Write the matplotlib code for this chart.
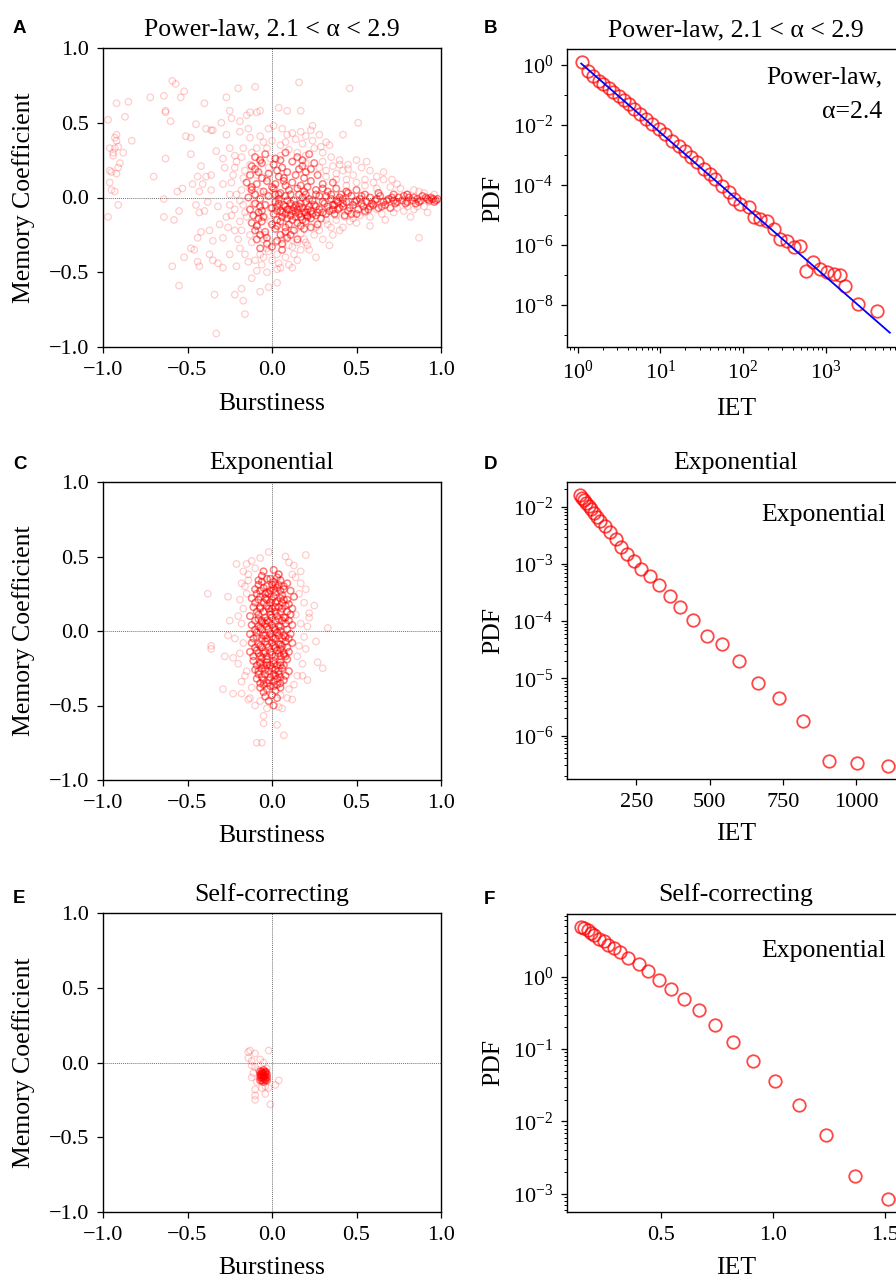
import numpy as np
import matplotlib
matplotlib.use("Agg")
import matplotlib.pyplot as plt
from matplotlib.ticker import LogLocator, NullFormatter, FixedLocator

# ---------------------------------------------------------------- data
# Panel A: burstiness / memory coefficient pairs (power-law IETs)
a_spread = [
    (-0.59, 0.78), (-0.57, 0.76), (-0.52, 0.71), (-0.54, 0.67), (-0.64, 0.68), (-0.72, 0.67),
    (-0.85, 0.64), (-0.92, 0.63), (-0.87, 0.54), (-0.97, 0.52), (-0.63, 0.58), (-0.63, 0.57),
    (-0.60, 0.51), (-0.40, 0.63), (-0.27, 0.67), (-0.20, 0.73), (-0.10, 0.74), (-0.25, 0.58),
    (-0.24, 0.53), (-0.19, 0.51), (-0.15, 0.55), (-0.13, 0.57), (-0.07, 0.58), (-0.09, 0.57),
    (-0.30, 0.50), (-0.45, 0.49), (-0.39, 0.46), (-0.35, 0.45), (-0.36, 0.45), (-0.27, 0.42),
    (-0.51, 0.41), (-0.48, 0.40), (-0.83, 0.38), (-0.92, 0.42), (-0.93, 0.40), (-0.92, 0.38),
    (-0.96, 0.33), (-0.91, 0.34), (-0.93, 0.33), (-0.94, 0.30), (-0.88, 0.30), (-0.94, 0.28),
    (-0.90, 0.23), (-0.91, 0.20), (-0.96, 0.18), (-0.95, 0.17), (-0.92, 0.16), (-0.96, 0.10),
    (-0.95, 0.05), (-0.93, 0.04), (-0.91, -0.05), (-0.97, -0.13), (-0.63, 0.26), (-0.70, 0.14),
    (-0.48, 0.29), (-0.42, 0.21), (-0.44, 0.14), (-0.39, 0.14), (-0.36, 0.15), (-0.47, 0.09),
    (-0.41, 0.09), (-0.53, 0.06), (-0.56, 0.04), (-0.43, 0.04), (-0.36, 0.05), (-0.64, -0.01),
    (-0.64, -0.13), (-0.58, -0.15), (-0.55, -0.09), (-0.45, -0.05), (-0.43, -0.10), (-0.40, -0.09),
    (-0.38, -0.03), (-0.32, -0.06), (-0.42, -0.23), (-0.44, -0.27), (-0.48, -0.34), (-0.46, -0.35),
    (-0.52, -0.40), (-0.59, -0.46), (-0.55, -0.59), (-0.44, -0.43), (-0.43, -0.46), (-0.37, -0.38),
    (-0.35, -0.42), (-0.34, -0.65), (-0.32, -0.44), (-0.29, -0.47), (-0.22, -0.65), (-0.17, -0.69),
    (-0.16, -0.78), (-0.33, -0.91), (-0.12, -0.54), (-0.09, -0.49), (-0.18, -0.61), (-0.07, -0.63),
    (-0.02, -0.60), (-0.03, -0.50), (-0.14, -0.43), (-0.21, -0.46), (-0.25, -0.38), (-0.19, -0.34),
    (-0.07, -0.38), (-0.03, -0.34), (-0.35, -0.29), (-0.29, -0.27), (-0.37, -0.22), (-0.31, -0.18),
    (-0.27, -0.13), (-0.22, -0.22), (-0.19, -0.16), (-0.13, -0.25), (-0.09, -0.19), (-0.04, -0.25),
    (-0.01, -0.16), (-0.15, -0.13), (-0.07, -0.11), (-0.01, -0.07), (-0.25, -0.05), (-0.17, -0.05),
    (-0.11, -0.05), (-0.21, 0.02), (-0.13, 0.06), (-0.07, 0.04), (-0.03, 0.02), (-0.29, 0.09),
    (-0.23, 0.15), (-0.17, 0.13), (-0.09, 0.15), (-0.03, 0.13), (-0.13, 0.22), (-0.07, 0.24),
    (-0.01, 0.26), (-0.21, 0.24), (-0.29, 0.26), (-0.33, 0.31), (-0.17, 0.33), (-0.09, 0.33),
    (-0.03, 0.33), (-0.13, 0.40), (-0.07, 0.41), (-0.02, 0.46), (-0.19, 0.44), (-0.25, 0.33),
    (0.16, 0.77), (0.46, 0.73), (0.04, 0.60), (0.09, 0.58), (0.17, 0.58), (0.51, 0.50),
    (0.01, 0.48), (0.24, 0.48), (0.23, 0.45), (0.28, 0.42), (0.42, 0.42), (0.17, 0.44),
    (0.09, 0.42), (0.12, 0.43), (0.14, 0.39), (0.34, 0.35), (0.29, 0.34), (0.56, 0.24),
    (0.40, 0.22), (0.45, 0.19), (0.53, 0.20), (0.66, 0.17), (0.62, 0.14), (0.71, 0.12),
    (0.80, 0.02), (0.87, 0.04), (0.87, -0.27), (0.67, -0.15), (0.58, -0.19), (0.50, -0.17),
    (0.35, -0.20), (0.25, -0.25), (0.21, -0.32), (0.03, -0.57), (0.12, -0.47), (0.05, -0.47),
    (0.04, -0.44), (0.06, -0.28), (0.10, -0.32), (0.17, -0.35), (0.13, -0.38), (0.03, -0.38),
    (0.19, -0.28), (0.74, -0.07), (0.80, -0.06), (0.86, -0.06), (0.93, -0.03), (0.96, -0.01),
    (0.30, 0.30), (0.35, 0.27), (0.40, 0.25), (0.45, 0.22), (0.32, 0.18), (0.38, 0.16),
    (0.44, 0.12), (0.50, 0.10), (0.55, 0.08), (0.60, 0.10), (0.28, -0.22), (0.33, -0.18),
    (0.38, -0.15), (0.43, -0.13), (0.55, -0.10), (0.62, -0.08), (0.05, 0.35), (0.10, 0.32),
    (0.15, 0.30), (0.20, 0.28), (0.00, 0.38), (0.25, 0.33), (0.02, -0.30), (0.08, -0.26),
    (0.12, -0.22), (0.17, -0.24), (-0.05, -0.28), (0.00, -0.42), (0.08, -0.40),
    (-0.28, 0.20), (-0.24, 0.10), (-0.22, -0.08), (-0.26, -0.20), (-0.20, -0.28), (-0.16, -0.38),
    (-0.10, -0.42), (-0.05, -0.40), (0.03, -0.48), (0.10, -0.45), (0.15, -0.30), (0.22, -0.35),
    (0.30, -0.28), (0.36, -0.25), (0.42, -0.20), (0.48, -0.14), (0.52, -0.12), (0.58, -0.13),
    (0.65, -0.11), (0.72, -0.10), (0.78, -0.09), (0.84, -0.08), (0.90, -0.06), (0.70, 0.07),
    (0.76, 0.06), (0.84, 0.05), (0.90, 0.03), (0.62, 0.06), (0.55, 0.12), (0.48, 0.15),
    (0.42, 0.18), (0.36, 0.21), (0.30, 0.24), (0.24, 0.38), (0.18, 0.36), (0.08, 0.37),
    (-0.05, 0.37), (-0.12, 0.30), (-0.18, 0.27), (-0.22, 0.20), (-0.18, 0.05), (-0.19, -0.02),
    (-0.24, -0.12), (-0.18, -0.22), (-0.12, -0.30), (-0.06, -0.45), (0.12, -0.33), (0.20, -0.30),
    (0.26, -0.20), (0.32, -0.15), (0.38, -0.12), (0.44, 0.08), (0.38, 0.12), (0.32, 0.14),
    (0.28, 0.20), (0.20, 0.23), (0.05, 0.28), (-0.02, 0.20), (-0.16, 0.18), (-0.25, 0.02),
    (0.46, -0.16), (0.40, -0.22), (0.34, -0.32), (0.26, -0.40), (0.15, -0.42), (-0.02, -0.36),
    (-0.08, -0.22), (-0.16, -0.10), (-0.22, 0.28), (-0.14, 0.46), (0.06, 0.46), (0.20, 0.41),
    (0.32, 0.37), (0.50, 0.25), (0.58, 0.18), (0.66, 0.12), (0.74, 0.09), (0.92, -0.10),
    (0.96, 0.02), (0.82, -0.13),
]
a_dense = [
    (-0.10, 0.27), (-0.04, 0.29), (0.02, 0.26), (0.08, 0.30), (0.15, 0.27), (0.22, 0.29),
    (-0.12, 0.21), (-0.06, 0.23), (0.01, 0.22), (0.06, 0.20), (0.12, 0.24), (0.18, 0.21), (0.25, 0.23),
    (-0.13, 0.15), (-0.08, 0.17), (-0.02, 0.16), (0.04, 0.14), (0.09, 0.17), (0.14, 0.15), (0.20, 0.17),
    (0.27, 0.15), (-0.15, 0.10), (-0.09, 0.09), (-0.03, 0.11), (0.02, 0.09), (0.07, 0.11), (0.12, 0.10),
    (0.17, 0.08), (0.23, 0.11), (0.30, 0.09), (0.36, 0.10), (-0.12, 0.05), (-0.05, 0.04), (0.01, 0.06),
    (0.05, 0.03), (0.10, 0.05), (0.15, 0.06), (0.19, 0.04), (0.26, 0.05), (0.33, 0.04), (-0.14, 0.00),
    (-0.07, -0.01), (-0.02, 0.01), (0.04, -0.01), (0.08, 0.01), (0.13, -0.02), (0.18, 0.00), (0.22, -0.01),
    (0.28, 0.01), (0.35, -0.01), (-0.10, -0.04), (-0.04, -0.05), (0.02, -0.03), (0.07, -0.05), (0.11, -0.04),
    (0.16, -0.06), (0.20, -0.03), (0.25, -0.05), (0.31, -0.04), (0.37, -0.05), (0.42, -0.04), (-0.13, -0.08),
    (-0.06, -0.09), (0.00, -0.07), (0.05, -0.09), (0.09, -0.08), (0.14, -0.10), (0.18, -0.07), (0.23, -0.09),
    (0.28, -0.08), (0.34, -0.09), (0.40, -0.07), (-0.11, -0.12), (-0.05, -0.13), (0.01, -0.11), (0.06, -0.13),
    (0.11, -0.12), (0.16, -0.11), (0.21, -0.13), (0.26, -0.12), (0.32, -0.11), (-0.12, -0.17), (-0.06, -0.16),
    (0.00, -0.18), (0.05, -0.16), (0.10, -0.18), (0.15, -0.17), (0.20, -0.16), (0.27, -0.18), (-0.10, -0.22),
    (-0.04, -0.23), (0.02, -0.21), (0.08, -0.23), (0.13, -0.22), (0.19, -0.21), (-0.09, -0.28), (-0.03, -0.27),
    (0.03, -0.29), (0.09, -0.27), (0.15, -0.28), (-0.07, -0.34), (0.00, -0.33), (0.06, -0.35),
    (0.03, -0.06), (0.09, -0.02), (0.14, -0.05), (0.19, -0.10), (0.24, -0.02), (0.12, -0.15), (0.06, -0.10),
    (0.17, -0.13), (0.22, -0.06), (0.27, -0.10), (0.30, -0.03), (0.04, 0.02), (0.10, -0.08), (0.16, 0.02),
    (0.21, -0.12),
    (-0.07, 0.25), (0.05, 0.25), (0.18, 0.25), (-0.10, 0.19), (0.03, 0.18), (0.16, 0.19), (0.23, 0.19),
    (-0.06, 0.13), (0.07, 0.13), (0.19, 0.13), (-0.12, 0.07), (0.00, 0.07), (0.08, 0.08), (0.21, 0.07),
    (0.30, 0.06), (-0.10, 0.02), (0.02, 0.02), (0.11, 0.02), (0.20, 0.02), (0.26, 0.02), (0.32, 0.01),
    (-0.07, -0.06), (0.04, -0.04), (0.08, -0.06), (0.13, -0.07), (0.17, -0.04), (0.21, -0.08), (0.26, -0.06),
    (0.33, -0.06), (0.39, -0.03), (-0.08, -0.10), (0.03, -0.09), (0.08, -0.11), (0.12, -0.09), (0.15, -0.08),
    (0.20, -0.10), (0.24, -0.11), (0.30, -0.10), (0.36, -0.08), (-0.08, -0.14), (0.03, -0.15), (0.09, -0.14),
    (0.14, -0.13), (0.18, -0.15), (0.23, -0.14), (0.29, -0.14), (-0.09, -0.19), (0.03, -0.19), (0.08, -0.20),
    (0.17, -0.19), (0.23, -0.20), (-0.07, -0.25), (0.05, -0.25), (0.11, -0.25), (-0.03, -0.31), (0.06, -0.31),
    (0.45, 0.03), (0.55, 0.02), (0.63, 0.03), (0.72, 0.02), (0.80, 0.02), (0.40, 0.00), (0.47, 0.01),
    (0.52, -0.01), (0.58, 0.00), (0.64, 0.01), (0.69, -0.01), (0.75, 0.00), (0.81, 0.00), (0.86, -0.01),
    (0.91, 0.00), (0.95, -0.01), (0.98, -0.01), (0.38, -0.02), (0.44, -0.03), (0.50, -0.02), (0.56, -0.03),
    (0.61, -0.02), (0.66, -0.03), (0.72, -0.02), (0.77, -0.02), (0.83, -0.02), (0.88, -0.02), (0.93, -0.02),
    (0.97, -0.02), (0.36, -0.05), (0.42, -0.06), (0.48, -0.05), (0.54, -0.06), (0.60, -0.05), (0.67, -0.05),
    (0.73, -0.04), (0.79, -0.04), (0.85, -0.04), (0.39, -0.08), (0.45, -0.09), (0.51, -0.08), (0.57, -0.08),
    (0.63, -0.07), (0.70, -0.07), (0.37, -0.11), (0.43, -0.12), (0.50, -0.11), (0.38, 0.06), (0.50, 0.05),
    (0.42, -0.01), (0.49, -0.03), (0.53, 0.01), (0.59, -0.04), (0.62, -0.01), (0.68, -0.02), (0.71, 0.00),
    (0.74, -0.03), (0.78, 0.01), (0.80, -0.03), (0.84, 0.00), (0.87, -0.03), (0.89, 0.01), (0.92, -0.01),
    (0.94, 0.00), (0.96, -0.03), (0.46, -0.07), (0.53, -0.04), (0.58, -0.06), (0.65, -0.06), (0.41, 0.02),
    (0.47, -0.11), (0.55, -0.09), (0.35, 0.02), (0.44, 0.04),
]

# Panel C: exponential IETs
c_spread = [
    (0.20, 0.51), (0.08, 0.50), (-0.02, 0.53), (-0.07, 0.49), (-0.21, 0.45), (0.13, 0.44), (-0.38, 0.25),
    (-0.26, 0.23), (-0.19, 0.21), (0.25, 0.17), (0.22, 0.09), (0.33, 0.02), (0.21, 0.03), (-0.25, 0.07),
    (-0.36, -0.10), (-0.36, -0.12), (-0.26, -0.03), (-0.28, -0.17), (-0.23, -0.18), (0.26, -0.07),
    (0.19, -0.04), (0.27, -0.21), (0.30, -0.25), (0.21, -0.33), (-0.29, -0.39), (-0.23, -0.42),
    (-0.18, -0.42), (-0.13, -0.45), (-0.07, -0.47), (-0.05, -0.57), (-0.05, -0.62), (0.03, -0.63),
    (0.07, -0.70), (-0.09, -0.75), (-0.06, -0.75), (0.04, -0.51), (0.10, -0.39), (0.05, -0.43),
    (-0.15, -0.27), (0.14, 0.11), (0.17, 0.32), (0.04, 0.38), (-0.14, 0.38), (-0.17, 0.15), (0.15, -0.17),
    (-0.16, 0.30), (-0.18, 0.05), (-0.17, -0.08), (-0.16, -0.30), (-0.15, 0.25), (0.16, 0.25), (0.17, 0.05),
    (0.16, -0.10), (0.15, -0.30), (0.12, 0.38), (-0.10, 0.42), (0.09, -0.45), (-0.12, -0.38), (0.18, -0.22),
    (-0.19, -0.15), (0.19, 0.19), (-0.14, 0.34), (0.13, -0.36),
    (-0.15, 0.45), (-0.12, 0.47), (0.10, 0.46), (0.14, 0.36), (-0.18, 0.32), (-0.20, 0.10), (-0.22, -0.05),
    (-0.20, -0.22), (-0.18, -0.34), (0.18, -0.30), (0.20, -0.12), (0.22, 0.12), (0.20, 0.28), (-0.14, -0.46),
    (0.12, -0.46), (0.06, -0.52), (-0.03, -0.52), (-0.10, -0.50), (0.17, 0.40), (-0.17, 0.40),
]
c_dense = [
    (-0.05, 0.40), (0.01, 0.41), (0.04, 0.38), (-0.08, 0.34), (-0.03, 0.35), (0.01, 0.33), (0.05, 0.34),
    (0.09, 0.32), (-0.10, 0.28), (-0.05, 0.29), (-0.01, 0.27), (0.03, 0.29), (0.07, 0.28), (0.11, 0.27),
    (-0.12, 0.22), (-0.07, 0.23), (-0.03, 0.21), (0.01, 0.23), (0.05, 0.22), (0.09, 0.21), (0.13, 0.23),
    (-0.11, 0.16), (-0.07, 0.15), (-0.03, 0.17), (0.00, 0.15), (0.04, 0.16), (0.08, 0.17), (0.12, 0.15),
    (-0.13, 0.10), (-0.08, 0.11), (-0.04, 0.09), (-0.01, 0.11), (0.03, 0.10), (0.07, 0.09), (0.11, 0.11),
    (-0.12, 0.04), (-0.08, 0.03), (-0.04, 0.05), (0.00, 0.04), (0.04, 0.03), (0.08, 0.05), (0.12, 0.04),
    (-0.13, -0.02), (-0.09, -0.01), (-0.05, -0.03), (-0.01, -0.02), (0.03, -0.01), (0.07, -0.03), (0.11, -0.02),
    (-0.12, -0.08), (-0.08, -0.09), (-0.04, -0.07), (0.00, -0.08), (0.04, -0.09), (0.08, -0.07), (0.12, -0.08),
    (-0.13, -0.14), (-0.09, -0.13), (-0.05, -0.15), (-0.01, -0.14), (0.03, -0.13), (0.07, -0.15), (0.10, -0.14),
    (-0.11, -0.20), (-0.07, -0.21), (-0.03, -0.19), (0.01, -0.20), (0.05, -0.21), (0.09, -0.19),
    (-0.10, -0.26), (-0.06, -0.25), (-0.02, -0.27), (0.02, -0.26), (0.06, -0.25), (0.10, -0.27),
    (-0.09, -0.32), (-0.05, -0.33), (-0.01, -0.31), (0.03, -0.32), (0.07, -0.33),
    (-0.07, -0.38), (-0.03, -0.39), (0.01, -0.37), (0.05, -0.38), (-0.04, -0.44), (0.00, -0.43), (0.03, -0.45),
    (-0.02, 0.06), (0.02, -0.05), (-0.02, -0.11), (0.02, -0.17), (-0.03, -0.23), (0.01, -0.29), (-0.01, 0.13),
    (0.02, 0.19), (-0.02, 0.25), (0.00, 0.31), (-0.06, -0.05), (0.05, 0.00), (-0.06, 0.07), (0.05, -0.12),
    (-0.06, -0.18), (0.05, 0.13),
    (-0.06, 0.37), (0.03, 0.36), (-0.08, 0.31), (-0.03, 0.30), (0.04, 0.31), (0.07, 0.30), (-0.09, 0.25),
    (-0.04, 0.25), (0.02, 0.26), (0.06, 0.24), (-0.10, 0.19), (-0.05, 0.19), (-0.01, 0.19), (0.06, 0.19),
    (0.10, 0.18), (-0.09, 0.13), (-0.05, 0.13), (0.02, 0.13), (0.09, 0.13), (-0.10, 0.07), (-0.06, 0.06),
    (0.02, 0.07), (0.06, 0.07), (0.10, 0.07), (-0.10, 0.01), (-0.06, 0.01), (-0.02, 0.01), (0.02, 0.01),
    (0.09, 0.01), (-0.11, -0.05), (-0.03, -0.05), (0.01, -0.05), (0.06, -0.05), (0.10, -0.05), (-0.10, -0.11),
    (-0.06, -0.11), (0.02, -0.11), (0.06, -0.10), (0.09, -0.11), (-0.11, -0.17), (-0.07, -0.17), (-0.03, -0.17),
    (0.05, -0.17), (0.08, -0.17), (-0.09, -0.23), (-0.05, -0.23), (-0.01, -0.23), (0.03, -0.23), (0.07, -0.23),
    (-0.08, -0.29), (-0.04, -0.29), (0.04, -0.29), (0.08, -0.30), (-0.07, -0.35), (-0.03, -0.35), (0.01, -0.34),
    (0.05, -0.35), (-0.05, -0.41), (0.02, -0.40), (-0.02, -0.47), (0.01, -0.50),
    (-0.06, 0.33), (-0.01, 0.35), (0.02, 0.31), (-0.07, 0.27), (-0.03, 0.26), (0.01, 0.28), (0.05, 0.27),
    (-0.08, 0.21), (-0.04, 0.22), (0.00, 0.21), (0.03, 0.20), (0.07, 0.21), (-0.07, 0.16), (-0.02, 0.15),
    (0.02, 0.16), (0.06, 0.15), (-0.08, 0.08), (-0.03, 0.07), (0.00, 0.09), (0.04, 0.08), (0.08, 0.09),
    (-0.07, 0.02), (-0.03, 0.03), (0.01, 0.02), (0.05, 0.03), (-0.09, -0.04), (-0.04, -0.03), (0.00, -0.04),
    (0.04, -0.03), (0.08, -0.04), (-0.07, -0.10), (-0.03, -0.09), (0.01, -0.10), (0.05, -0.09),
    (-0.08, -0.15), (-0.04, -0.14), (0.00, -0.16), (0.04, -0.15), (0.07, -0.16), (-0.07, -0.22),
    (-0.03, -0.21), (0.01, -0.22), (0.05, -0.23), (-0.08, -0.27), (-0.04, -0.26), (0.00, -0.25),
    (0.04, -0.27), (-0.06, -0.31), (-0.02, -0.33), (0.02, -0.30), (0.05, -0.31), (-0.05, -0.36),
    (-0.01, -0.37), (0.03, -0.36),
]

# Panel E: self-correcting process
e_spread = [
    (-0.14, 0.07), (-0.13, 0.08), (-0.10, 0.06), (-0.02, 0.08), (-0.14, 0.03), (-0.12, 0.01), (-0.07, 0.02),
    (-0.05, 0.00), (-0.12, -0.02), (-0.10, -0.03), (-0.12, -0.10), (-0.09, -0.13), (-0.06, -0.17),
    (-0.04, -0.16), (-0.10, -0.18), (-0.10, -0.22), (-0.10, -0.25), (-0.04, -0.21), (-0.02, -0.17),
    (-0.01, -0.28), (0.04, -0.12), (0.02, -0.15), (-0.08, -0.05), (-0.03, -0.04), (-0.11, -0.07),
]
e_dense = [
    (-0.06, -0.06), (-0.05, -0.08), (-0.04, -0.07), (-0.06, -0.10), (-0.05, -0.11), (-0.04, -0.09),
    (-0.07, -0.08), (-0.05, -0.05), (-0.03, -0.08), (-0.06, -0.12), (-0.04, -0.12), (-0.07, -0.10),
    (-0.05, -0.09), (-0.06, -0.07), (-0.04, -0.06), (-0.05, -0.13), (-0.03, -0.10), (-0.07, -0.06),
    (-0.055, -0.075), (-0.045, -0.095), (-0.065, -0.085), (-0.035, -0.065), (-0.05, -0.10), (-0.06, -0.09),
    (-0.04, -0.11), (-0.05, -0.07), (-0.07, -0.12), (-0.03, -0.12),
]

# Panel B: log-binned IET distribution, power law
b_iet = [1.117, 1.346, 1.549, 1.782, 2.046, 2.355, 2.704, 3.112, 3.581, 4.111, 4.732, 5.702,
         6.730, 7.889, 9.506, 11.46, 13.77, 16.60, 20.0, 23.44, 27.67, 33.34, 39.45, 46.24,
         55.59, 66.99, 77.09, 92.90, 117.2, 134.6, 162.2, 195.4, 235.5, 283.8, 341.4, 418.8,
         495.5, 586.1, 704.7, 849.2, 1042, 1256, 1486, 1738, 2455, 4207]
b_pdf = [1.23, 0.647, 0.441, 0.301, 0.233, 0.167, 0.123, 0.0951, 0.0698, 0.0501, 0.0341, 0.0233,
         0.0158, 0.0108, 7.36e-3, 5.01e-3, 3.01e-3, 2.05e-3, 1.39e-3, 8.36e-4, 5.70e-4, 3.41e-4,
         2.33e-4, 1.58e-4, 9.51e-5, 5.70e-5, 3.41e-5, 2.33e-5, 1.80e-5, 8.36e-6, 7.36e-6, 6.47e-6,
         3.41e-6, 1.58e-6, 1.39e-6, 8.36e-7, 9.51e-7, 1.39e-7, 2.64e-7, 1.58e-7, 1.29e-7, 1.08e-7,
         1.0e-7, 4.41e-8, 1.08e-8, 6.47e-9]
fit_alpha = 2.4
fit_scale = 1.4
fit_range = (1.1, 6000)

# Panel D: exponential IET distribution
d_iet = [58.3, 65.1, 71.9, 78.7, 86.6, 94.6, 103.6, 115.0, 126.3, 143.3, 160.3, 179.6, 197.7,
         219.3, 240.8, 266.9, 295.2, 325.9, 363.3, 399.5, 442.6, 491.4, 542.4, 601.4, 666.0,
         736.3, 816.8, 905.2, 1001.6, 1109.3]
d_pdf = [0.01585, 0.01439, 0.01291, 0.01161, 0.01028, 8.99e-3, 7.87e-3, 6.61e-3, 5.56e-3, 4.60e-3,
         3.63e-3, 2.69e-3, 1.98e-3, 1.50e-3, 1.14e-3, 8.18e-4, 6.01e-4, 4.31e-4, 2.69e-4, 1.78e-4,
         1.03e-4, 5.47e-5, 4.02e-5, 2.00e-5, 8.26e-6, 4.47e-6, 1.82e-6, 3.65e-7, 3.27e-7, 2.99e-7]

# Panel F: self-correcting IET distribution
f_iet = [0.144, 0.159, 0.174, 0.189, 0.204, 0.223, 0.245, 0.267, 0.290, 0.319, 0.356, 0.401,
         0.445, 0.494, 0.546, 0.604, 0.672, 0.741, 0.823, 0.912, 1.008, 1.116, 1.238, 1.368, 1.512]
f_pdf = [4.85, 4.71, 4.37, 4.06, 3.72, 3.35, 3.08, 2.77, 2.49, 2.19, 1.83, 1.48, 1.20, 0.891,
         0.670, 0.498, 0.351, 0.217, 0.125, 0.0678, 0.0362, 0.0167, 6.44e-3, 1.77e-3, 8.59e-4]

scatter_titles = ["Power-law, 2.1 < \u03b1 < 2.9", "Exponential", "Self-correcting"]
panel_letters = ["A", "B", "C", "D", "E", "F"]

# ---------------------------------------------------------------- style
plt.rcParams.update({
    "font.family": ["Liberation Serif", "DejaVu Serif"],
    "mathtext.fontset": "custom",
    "mathtext.rm": "Liberation Serif",
    "mathtext.it": "Liberation Serif:italic",
    "mathtext.bf": "Liberation Serif:bold",
    "axes.unicode_minus": True,
    "axes.linewidth": 1.0,
    "xtick.major.size": 4, "ytick.major.size": 4,
    "xtick.minor.size": 2.2, "ytick.minor.size": 2.2,
    "xtick.major.width": 0.9, "ytick.major.width": 0.9,
    "xtick.minor.width": 0.7, "ytick.minor.width": 0.7,
    "xtick.major.pad": 6, "ytick.major.pad": 6,
    "xtick.labelsize": 16, "ytick.labelsize": 16,
})

W, H = 896, 1277
fig = plt.figure(figsize=(W / 100, H / 100), dpi=100)


def px_box(left, top, right, bottom):
    return [left / W, 1 - bottom / H, (right - left) / W, (bottom - top) / H]


LABEL_FS = 18.5
TITLE_FS = 18.5


def scatter_panel(box, spread, dense, title, xlab_y):
    ax = fig.add_axes(px_box(*box))
    sx, sy = np.array(spread).T
    dx, dy = np.array(dense).T
    ax.scatter(sx, sy, s=22, facecolors="none", edgecolors=(1, 0, 0, 0.2), linewidths=0.9)
    ax.scatter(dx, dy, s=22, facecolors="none", edgecolors=(1, 0, 0, 0.5), linewidths=1.1)
    ax.axhline(0, color="0.45", lw=0.7, ls=(0, (1, 1)), zorder=0)
    ax.axvline(0, color="0.45", lw=0.7, ls=(0, (1, 1)), zorder=0)
    ax.set_xlim(-1, 1)
    ax.set_ylim(-1, 1)
    ticks = [-1.0, -0.5, 0.0, 0.5, 1.0]
    ax.set_xticks(ticks)
    ax.set_yticks(ticks)
    ax.set_xticklabels([f"{t:.1f}".replace("-", "\u2212") for t in ticks])
    ax.set_yticklabels([f"{t:.1f}".replace("-", "\u2212") for t in ticks])
    ax.set_xlabel("Burstiness", fontsize=LABEL_FS)
    ax.set_ylabel("Memory Coefficient", fontsize=LABEL_FS)
    ax.xaxis.set_label_coords(0.5, xlab_y)
    ax.yaxis.set_label_coords(-0.2, 0.5)
    ax.set_title(title, fontsize=TITLE_FS, pad=9)
    return ax


def pdf_panel(box, x, y, title, xlab_y):
    ax = fig.add_axes(px_box(*box))
    ax.plot(x, y, ls="none", marker="o", ms=9, mfc="none", mec=(1, 0, 0, 0.72), mew=1.3)
    ax.set_yscale("log")
    ax.set_xlabel("IET", fontsize=LABEL_FS)
    ax.set_ylabel("PDF", fontsize=LABEL_FS)
    ax.xaxis.set_label_coords(0.5, xlab_y)
    ax.yaxis.set_label_coords(-0.186, 0.5)
    ax.set_title(title, fontsize=TITLE_FS, pad=9)
    return ax


# left column
scatter_panel((103, 48, 441, 347), a_spread, a_dense, scatter_titles[0], -0.154)
scatter_panel((103, 482, 441, 780), c_spread, c_dense, scatter_titles[1], -0.151)
scatter_panel((103, 913, 441, 1212), e_spread, e_dense, scatter_titles[2], -0.151)

# B: power law on log-log axes with fitted line
axB = pdf_panel((567, 49, 905, 347), b_iet, b_pdf, scatter_titles[0], -0.171)
axB.set_xscale("log")
xf = np.geomspace(*fit_range, 50)
axB.plot(xf, fit_scale * xf ** (-fit_alpha), color="blue", lw=1.3)
axB.set_xlim(0.74, 9150)
axB.set_ylim(4.0e-10, 3.4)
axB.yaxis.set_major_locator(FixedLocator([1e0, 1e-2, 1e-4, 1e-6, 1e-8]))
axB.yaxis.set_minor_locator(FixedLocator([1e-1, 1e-3, 1e-5, 1e-7, 1e-9]))
axB.yaxis.set_minor_formatter(NullFormatter())
axB.xaxis.set_major_locator(FixedLocator([1e0, 1e1, 1e2, 1e3]))
axB.xaxis.set_minor_locator(LogLocator(base=10, subs=np.arange(2, 10), numticks=20))
axB.xaxis.set_minor_formatter(NullFormatter())
axB.text(0.932, 0.941, "Power-law,\n\u03b1=2.4", transform=axB.transAxes,
         ha="right", va="top", fontsize=LABEL_FS, multialignment="right", linespacing=1.75)

# D: exponential
axD = pdf_panel((567, 482, 905, 779), d_iet, d_pdf, "Exponential", -0.148)
axD.set_xlim(13, 1166)
axD.set_ylim(10 ** -6.76, 10 ** -1.57)
axD.set_xticks([250, 500, 750, 1000])
axD.yaxis.set_major_locator(FixedLocator([1e-2, 1e-3, 1e-4, 1e-5, 1e-6]))
axD.yaxis.set_minor_locator(LogLocator(base=10, subs=np.arange(2, 10), numticks=20))
axD.yaxis.set_minor_formatter(NullFormatter())
axD.text(0.944, 0.889, "Exponential", transform=axD.transAxes, ha="right", va="center",
         fontsize=LABEL_FS)

# F: self-correcting
axF = pdf_panel((567, 914, 905, 1212), f_iet, f_pdf, "Self-correcting", -0.151)
axF.set_xlim(0.082, 1.59)
axF.set_ylim(10 ** -3.25, 10 ** 0.866)
axF.set_xticks([0.5, 1.0, 1.5])
axF.set_xticklabels(["0.5", "1.0", "1.5"])
axF.yaxis.set_major_locator(FixedLocator([1e0, 1e-1, 1e-2, 1e-3]))
axF.yaxis.set_minor_locator(LogLocator(base=10, subs=np.arange(2, 10), numticks=20))
axF.yaxis.set_minor_formatter(NullFormatter())
axF.text(0.944, 0.875, "Exponential", transform=axF.transAxes, ha="right", va="center",
         fontsize=LABEL_FS)

# panel letters
letter_pos = [(13, 33), (484, 33), (13, 469), (484, 469), (13, 903), (484, 904)]
for letter, (lx, ly) in zip(panel_letters, letter_pos):
    fig.text(lx / W, 1 - ly / H, letter, fontsize=13.5, fontweight="bold",
             family=["Liberation Sans", "DejaVu Sans"], ha="left", va="baseline")

fig.savefig("out.png", dpi=100)
